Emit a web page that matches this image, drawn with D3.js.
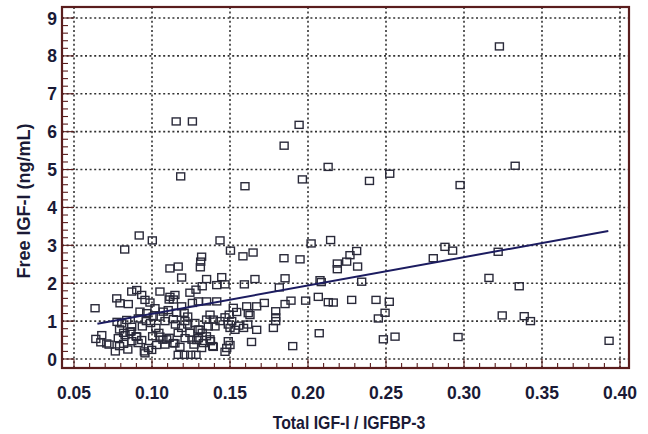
<!DOCTYPE html>
<html>
<head>
<meta charset="utf-8">
<script src="https://cdn.jsdelivr.net/npm/d3@7"></script>
<style>
  body { margin: 0; background: #fff; }
  text { font-family: "Liberation Sans", Arial, sans-serif; font-weight: bold; fill: #1a1a36; }
</style>
</head>
<body>
<div id="chart"></div>
<script>
// tick values
var xTicks = [0.05, 0.10, 0.15, 0.20, 0.25, 0.30, 0.35, 0.40];
var yTicks = [0, 1, 2, 3, 4, 5, 6, 7, 8, 9];

// regression line
var fitX = [0.065, 0.3925];
var fitY = [0.93, 3.38];

// total IGF-I / IGFBP-3 ratio and free IGF-I (ng/mL)
var ratio = [
  0.3227, 0.1155, 0.1259, 0.1943, 0.1847, 0.1184, 0.2129, 0.1964, 0.1596, 0.2394, 0.2524, 0.2975, 0.3328,
  0.316, 0.3219, 0.3354, 0.3245, 0.3386, 0.3426, 0.393, 0.2962, 0.2878, 0.2927, 0.2803,
  0.0918, 0.1002, 0.0825, 0.1436, 0.1503, 0.1583, 0.1648, 0.1115, 0.1168, 0.119, 0.1318, 0.1312, 0.131,
  0.135, 0.1447, 0.1415, 0.1468, 0.1592, 0.166, 0.1846, 0.1949, 0.202, 0.2145, 0.2188, 0.2188, 0.2248,
  0.2269, 0.2312, 0.2318, 0.2344, 0.2077, 0.2085, 0.1853, 0.1816, 0.1322, 0.1282, 0.1243,
  0.0635, 0.0774, 0.0795, 0.0848, 0.087, 0.0902, 0.0934, 0.0955, 0.0987, 0.1019, 0.1051, 0.1147, 0.1115,
  0.0923, 0.0966, 0.1008, 0.1072, 0.1104, 0.1051, 0.1158, 0.119, 0.1206, 0.1259,
  0.1297, 0.135, 0.1415, 0.1521, 0.1543, 0.1607, 0.1617, 0.1671, 0.172, 0.1793, 0.1793, 0.1793, 0.1778,
  0.1853, 0.1891, 0.1985, 0.2066, 0.213, 0.2162, 0.228, 0.2436, 0.2521, 0.2494, 0.2451, 0.2072, 0.1902,
  0.2483, 0.2558, 0.1628, 0.1671, 0.1638,
  0.1372, 0.135, 0.1393, 0.1436, 0.1468, 0.1511, 0.1495, 0.1361, 0.1404, 0.1489, 0.1532, 0.15, 0.1308,
  0.1556, 0.1587, 0.1614,
  0.0792, 0.0818, 0.0866, 0.0898, 0.0938, 0.0964, 0.0991, 0.1025, 0.1004, 0.1044, 0.107, 0.1083, 0.111,
  0.1137, 0.115, 0.1168, 0.119, 0.1211, 0.1229, 0.1243, 0.1256, 0.1269, 0.1168, 0.1208, 0.1248, 0.1282,
  0.1296, 0.1322, 0.1349, 0.1375, 0.1389,
  0.064, 0.0672, 0.0725, 0.0765, 0.0792, 0.0818, 0.0845, 0.0871, 0.0911, 0.0951, 0.0977, 0.0678, 0.071,
  0.0784, 0.0827, 0.0859, 0.0902, 0.0934, 0.0998, 0.0955, 0.103, 0.1051, 0.1094, 0.1147, 0.1179, 0.1212,
  0.1287, 0.1372, 0.1393, 0.1468, 0.15, 0.1489, 0.1479, 0.1297, 0.1329, 0.1318,
  0.0806, 0.0838, 0.0776, 0.087, 0.0912, 0.111, 0.1137, 0.1083, 0.1137, 0.1229, 0.1275
];
var freeIGF = [
  8.25, 6.27, 6.27, 6.18, 5.63, 4.82, 5.07, 4.74, 4.56, 4.70, 4.89, 4.59, 5.10,
  2.14, 2.83, 1.92, 1.15, 1.13, 1.00, 0.48, 0.58, 2.96, 2.86, 2.66,
  3.26, 3.13, 2.89, 3.13, 2.86, 2.71, 2.81, 2.39, 2.44, 2.15, 2.70, 2.57, 2.42,
  2.11, 2.16, 1.95, 1.97, 1.97, 2.11, 2.66, 2.63, 3.05, 3.14, 2.52, 2.37, 2.57,
  2.74, 2.85, 2.44, 2.04, 2.08, 2.03, 2.13, 1.89, 1.92, 1.83, 1.75,
  1.34, 1.60, 1.47, 1.45, 1.78, 1.82, 1.69, 1.56, 1.49, 1.34, 1.78, 1.69, 1.64,
  1.25, 1.21, 1.12, 1.25, 1.29, 1.12, 1.22, 1.39, 1.22, 1.48,
  1.52, 1.52, 1.52, 1.35, 1.24, 1.39, 1.21, 1.39, 1.48, 1.26, 1.10, 1.00, 0.82,
  1.45, 1.54, 1.54, 1.64, 1.50, 1.49, 1.56, 1.56, 1.51, 1.22, 1.07, 0.68, 0.34,
  0.52, 0.59, 1.16, 0.77, 0.45,
  1.17, 1.04, 1.04, 1.00, 1.10, 1.00, 1.17, 0.86, 0.86, 0.91, 0.77, 0.82, 0.77,
  0.88, 0.82, 0.91,
  0.78, 0.69, 0.73, 0.60, 0.86, 1.00, 0.95, 0.82, 0.60, 0.69, 0.51, 0.38, 0.56,
  0.42, 0.91, 0.69, 0.82, 1.00, 0.91, 0.69, 0.51, 0.38, 0.11, 0.11, 0.11, 0.11,
  0.78, 0.69, 0.60, 0.47, 0.34,
  0.53, 0.44, 0.38, 0.20, 0.34, 0.40, 0.25, 0.47, 0.42, 0.20, 0.29, 0.63, 0.41,
  0.55, 0.63, 0.72, 0.59, 0.50, 0.24, 0.15, 0.37, 0.59, 0.52, 0.41, 0.32, 0.55,
  0.50, 0.52, 0.32, 0.19, 0.37, 0.47, 0.29, 0.55, 0.42, 0.29,
  0.94, 1.03, 0.98, 0.85, 1.07, 1.57, 1.57, 1.00, 1.05, 1.12, 0.95
];

var W = 648, H = 434;
var svg = d3.select("#chart").append("svg")
    .attr("width", W)
    .attr("height", H);

var x = d3.scaleLinear().domain([0.05, 0.40]).range([74, 620]);
var y = d3.scaleLinear().domain([0, 9]).range([359, 18]);

var frame = {left: 62, right: 629, top: 7, bottom: 368};

// dotted grid
var grid = svg.append("g")
    .attr("stroke", "#333")
    .attr("stroke-width", 1.6)
    .attr("stroke-dasharray", "2,2.6");

grid.selectAll(".gx").data(xTicks).enter().append("line")
    .attr("x1", function(d){ return x(d); })
    .attr("x2", function(d){ return x(d); })
    .attr("y1", frame.top)
    .attr("y2", frame.bottom);

grid.selectAll(".gy").data(yTicks).enter().append("line")
    .attr("y1", function(d){ return y(d); })
    .attr("y2", function(d){ return y(d); })
    .attr("x1", frame.left)
    .attr("x2", frame.right);

// inward ticks on left and bottom frame
var ticks = svg.append("g").attr("stroke", "#5a1d1d").attr("stroke-width", 1.1);
ticks.selectAll(".my").data(d3.range(0, 9.01, 0.2)).enter().append("line")
    .attr("x1", frame.left)
    .attr("x2", function(d){ return Math.abs(d - Math.round(d)) < 0.01 ? x(0.05) : frame.left + 6; })
    .attr("y1", function(d){ return y(d); })
    .attr("y2", function(d){ return y(d); });
ticks.selectAll(".mx").data(d3.range(0.05, 0.4051, 0.01)).enter().append("line")
    .attr("y1", frame.bottom)
    .attr("y2", function(d, i){ return i % 5 === 0 ? y(0) : frame.bottom - 5; })
    .attr("x1", function(d){ return x(d); })
    .attr("x2", function(d){ return x(d); });

// frame
svg.append("rect")
    .attr("x", frame.left)
    .attr("y", frame.top)
    .attr("width", frame.right - frame.left)
    .attr("height", frame.bottom - frame.top)
    .attr("fill", "none")
    .attr("stroke", "#5a1d1d")
    .attr("stroke-width", 2.2);

// points
var pts = ratio.map(function(d, i){ return {x: d, y: freeIGF[i]}; });
svg.selectAll(".point").data(pts).enter().append("rect")
    .attr("class", "point")
    .attr("x", function(d){ return x(d.x) - 4; })
    .attr("y", function(d){ return y(d.y) - 3.5; })
    .attr("width", 8)
    .attr("height", 7)
    .attr("fill", "none")
    .attr("stroke", "#2a2a3a")
    .attr("stroke-width", 1.4);

// regression line
svg.append("line")
    .attr("x1", x(fitX[0])).attr("y1", y(fitY[0]))
    .attr("x2", x(fitX[1])).attr("y2", y(fitY[1]))
    .attr("stroke", "#1c1c60")
    .attr("stroke-width", 2);

// tick labels
svg.selectAll(".xl").data(xTicks).enter().append("text")
    .attr("x", function(d){ return x(d); })
    .attr("y", 399)
    .attr("text-anchor", "middle")
    .style("font-size", "17.5px")
    .text(function(d){ return d.toFixed(2); });

svg.selectAll(".yl").data(yTicks).enter().append("text")
    .attr("x", 57)
    .attr("y", function(d){ return y(d) + 6.5; })
    .attr("text-anchor", "end")
    .style("font-size", "17.5px")
    .text(function(d){ return d; });

// axis titles
svg.append("text")
    .attr("transform", "translate(349,429) scale(0.88,1)")
    .attr("text-anchor", "middle")
    .style("font-size", "18px")
    .text("Total IGF-I / IGFBP-3");

svg.append("text")
    .attr("transform", "translate(29.5,201) rotate(-90)")
    .attr("text-anchor", "middle")
    .style("font-size", "18px")
    .text("Free IGF-I (ng/mL)");
</script>
</body>
</html>
